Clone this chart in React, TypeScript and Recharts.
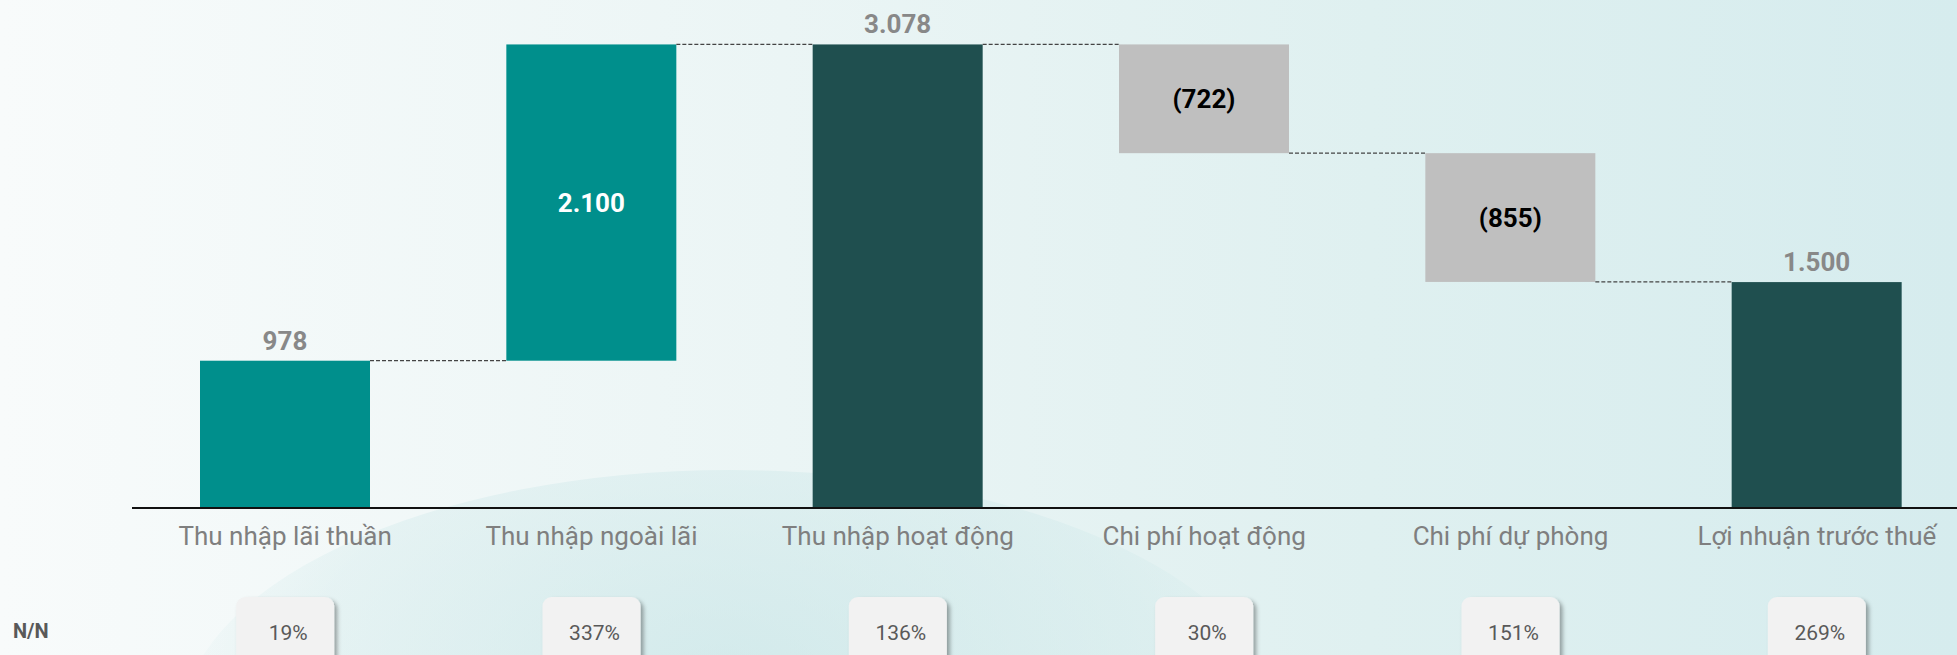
import { Bar, BarChart, Cell, LabelList, XAxis, YAxis } from 'recharts'

const categories = [
  'Thu nhập lãi thuần',
  'Thu nhập ngoài lãi',
  'Thu nhập hoạt động',
  'Chi phí hoạt động',
  'Chi phí dự phòng',
  'Lợi nhuận trước thuế',
]
const amounts = [978, 2100, 3078, -722, -855, 1500]
const isTotal = [false, false, true, false, false, true]
const yoyPct = [19, 337, 136, 30, 151, 269]

const TEAL = '#008f8c'
const DARK = '#1f4f4f'
const GREY = '#bfbfbf'

const CHART_W = 1970
const CHART_H = 655
const MARGIN = { top: 11, right: 0, left: 132, bottom: 0 }
const STEP = (CHART_W - MARGIN.left - MARGIN.right) / categories.length

// waterfall rows: invisible base + visible size
let running = 0
const rows = categories.map((name, i) => {
  const amt = amounts[i]
  let base = 0
  let size = amt
  if (isTotal[i]) {
    running = amt
  } else if (amt >= 0) {
    base = running
    running += amt
  } else {
    base = running + amt
    size = -amt
    running += amt
  }
  return { name, base, size, amt, total: isTotal[i], pct: yoyPct[i] }
})

const barColor = (r) => (r.total ? DARK : r.amt < 0 ? GREY : TEAL)

const fmt = (v: number) => {
  const s = Math.abs(v).toLocaleString('de-DE')
  return v < 0 ? `(${s})` : s
}

const WaterfallBar = (props: any) => {
  const { x, y, width, height, index, fill } = props
  const r = rows[index]
  const level = r.amt < 0 && !r.total ? y + height : y
  return (
    <g>
      <rect x={x} y={y} width={width} height={height} fill={fill} />
      {index < rows.length - 1 && (
        <line
          x1={x + width}
          x2={x + STEP}
          y1={level}
          y2={level}
          stroke="#444"
          strokeWidth={1.2}
          strokeDasharray="4 2"
        />
      )}
    </g>
  )
}

const BarLabel = (props: any) => {
  const { x, y, width, height, index } = props
  const r = rows[index]
  const cx = x + width / 2
  if (r.base === 0) {
    return (
      <text x={cx} y={y - 11} textAnchor="middle" fill="#888" fontSize={26} fontWeight={700}>
        {fmt(r.amt)}
      </text>
    )
  }
  return (
    <text
      x={cx}
      y={y + height / 2}
      dy={9}
      textAnchor="middle"
      fill={r.amt < 0 ? '#000' : '#fff'}
      fontSize={26}
      fontWeight={700}
    >
      {fmt(r.amt)}
    </text>
  )
}

const CategoryTick = (props: any) => {
  const { x, y, payload, index } = props
  const r = rows[index]
  const fid = `shadow-${index}`
  return (
    <g>
      <defs>
        <filter id={fid} x="-20%" y="-20%" width="150%" height="150%">
          <feDropShadow dx="3" dy="3" stdDeviation="2" floodColor="#000" floodOpacity="0.35" />
        </filter>
      </defs>
      <text x={x} y={y + 31} textAnchor="middle" fill="#7f7f7f" fontSize={26}>
        {payload.value}
      </text>
      <rect x={x - 49} y={y + 83} width={98} height={72} rx={9} fill="#f2f2f2" filter={`url(#${fid})`} />
      <text x={x + 3} y={y + 126} textAnchor="middle" fill="#595959" fontSize={21}>
        {r.pct}%
      </text>
    </g>
  )
}

export default function App() {
  return (
    <div
      style={{
        position: 'absolute',
        left: 0,
        top: 0,
        width: 1957,
        height: 655,
        overflow: 'hidden',
        fontFamily: 'Roboto, sans-serif',
        background: 'linear-gradient(90deg, #f8fbfb 0%, #ebf5f5 40%, #dff0f0 70%, #d6ecee 100%)',
      }}
    >
      <div
        style={{
          position: 'absolute',
          left: 180,
          top: 470,
          width: 1100,
          height: 520,
          borderRadius: '50%',
          background: 'radial-gradient(ellipse at 50% 40%, rgba(190,225,227,0.55) 0%, rgba(205,232,233,0.35) 55%, rgba(220,240,240,0) 75%)',
        }}
      />
      <div
        style={{
          position: 'absolute',
          left: 13,
          top: 619,
          fontSize: 20,
          fontWeight: 700,
          color: '#595959',
        }}
      >
        N/N
      </div>
      <div style={{ position: 'absolute', left: 0, top: 0 }}>
        <BarChart width={CHART_W} height={CHART_H} data={rows} margin={MARGIN} barSize={170}>
          <YAxis hide domain={[0, 3300]} />
          <XAxis
            dataKey="name"
            height={CHART_H - 508}
            interval={0}
            tickLine={false}
            tickMargin={0}
            axisLine={{ stroke: '#111', strokeWidth: 2 }}
            tick={<CategoryTick />}
          />
          <Bar dataKey="base" stackId="w" fill="transparent" isAnimationActive={false} />
          <Bar dataKey="size" stackId="w" shape={<WaterfallBar />} isAnimationActive={false}>
            {rows.map((r) => (
              <Cell key={r.name} fill={barColor(r)} />
            ))}
            <LabelList dataKey="size" content={<BarLabel />} />
          </Bar>
        </BarChart>
      </div>
    </div>
  )
}
